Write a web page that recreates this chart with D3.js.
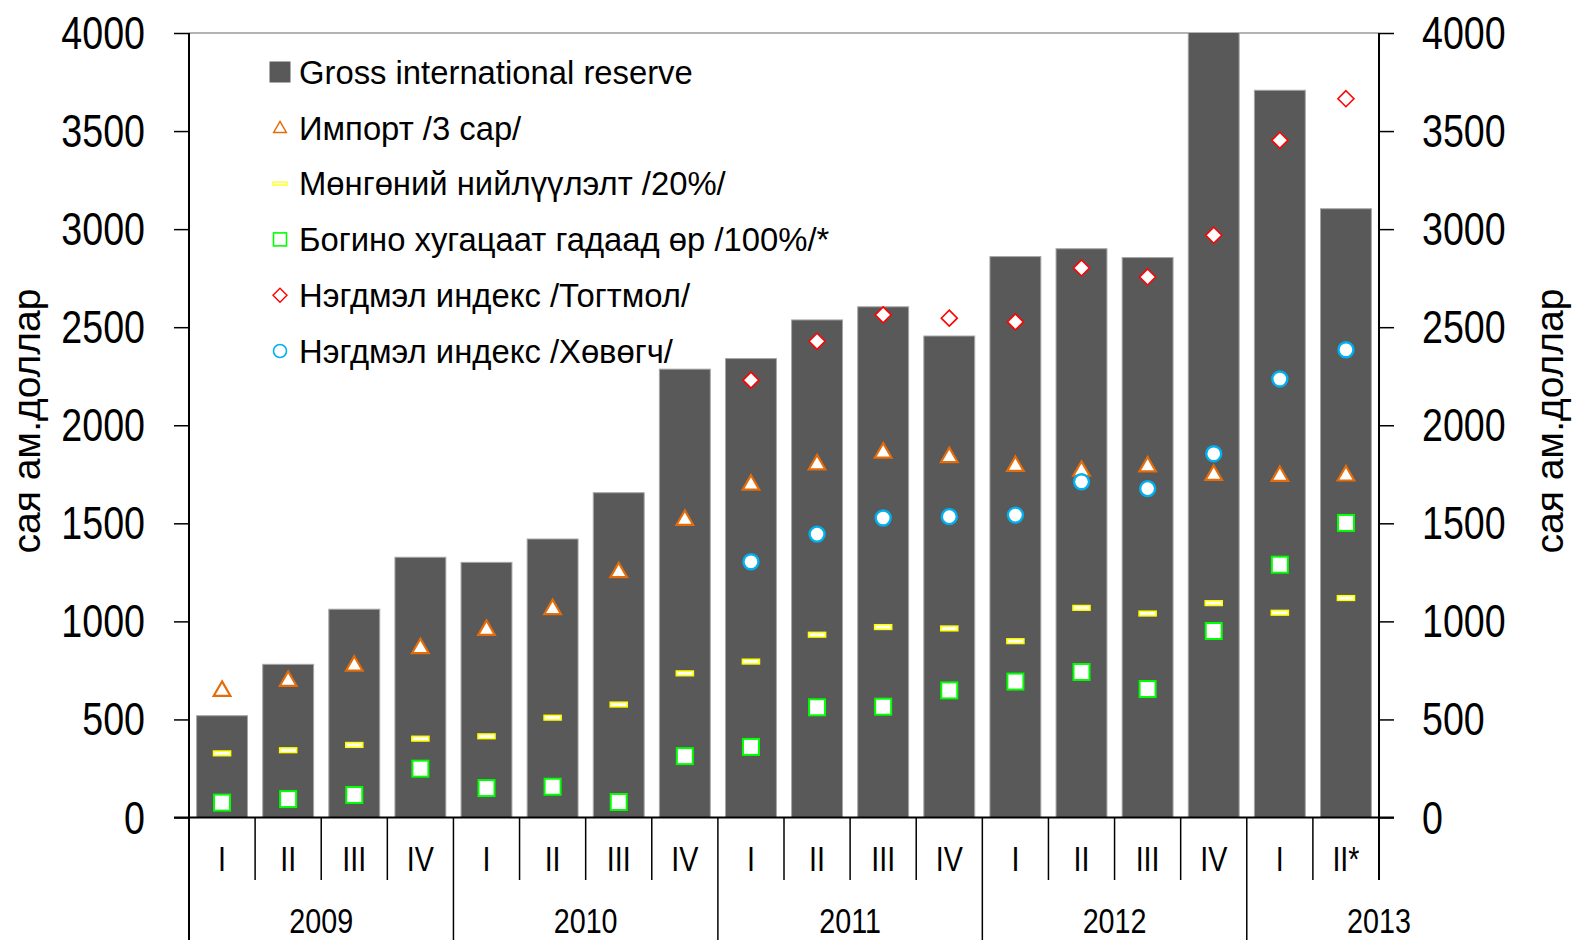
<!DOCTYPE html>
<html>
<head>
<meta charset="utf-8">
<script src="https://cdn.jsdelivr.net/npm/d3@7"></script>
<style>
  body { margin: 0; background: #fff; }
  text { font-family: "Liberation Sans", Arial, sans-serif; fill: #000; }
</style>
</head>
<body>
<div id="chart"></div>
<script>
// quarters and years on the two-level x axis
var quarters = ["I", "II", "III", "IV", "I", "II", "III", "IV", "I", "II", "III", "IV", "I", "II", "III", "IV", "I", "II*"];
var years = ["2009", "2009", "2009", "2009", "2010", "2010", "2010", "2010", "2011", "2011", "2011", "2011",
             "2012", "2012", "2012", "2012", "2013", "2013"];

// сая ам.доллар
var reserve   = [519, 781, 1062, 1327, 1301, 1420, 1656, 2286, 2340, 2537, 2604, 2455, 2860, 2900, 2855, 4130, 3708, 3104];
var imports   = [650, 701, 778, 868, 961, 1067, 1255, 1522, 1701, 1805, 1865, 1842, 1797, 1772, 1794, 1751, 1746, 1748];
var money     = [327, 343, 370, 402, 414, 509, 576, 735, 795, 932, 971, 964, 899, 1069, 1040, 1093, 1044, 1119];
var shortDebt = [76, 94, 115, 249, 150, 157, 79, 313, 360, 562, 565, 648, 693, 742, 655, 951, 1289, 1502];
var fixedIdx  = [null, null, null, null, null, null, null, null, 2230, 2428, 2563, 2546, 2527, 2802, 2756, 2969, 3453, 3665];
var floatIdx  = [null, null, null, null, null, null, null, null, 1304, 1445, 1527, 1534, 1542, 1712, 1677, 1855, 2236, 2385];

var yTicks = [0, 500, 1000, 1500, 2000, 2500, 3000, 3500, 4000];

var legendLabels = ["Gross international reserve", "Импорт /3 сар/", "Мөнгөний нийлүүлэлт /20%/",
                    "Богино хугацаат гадаад өр /100%/*", "Нэгдмэл индекс /Тогтмол/", "Нэгдмэл индекс /Хөвөгч/"];
var yTitle = "сая ам.доллар";

(function () {
    var width = 1574, height = 940;
    var plot = { left: 189, right: 1379, top: 33, bottom: 817.5 };

    var svg = d3.select("#chart").append("svg")
        .attr("width", width)
        .attr("height", height);

    // squeeze text horizontally, the original uses a narrow face
    function condense(sel, k) {
        sel.each(function () {
            var w = this.getComputedTextLength();
            d3.select(this).attr("textLength", w * k).attr("lengthAdjust", "spacingAndGlyphs");
        });
    }

    var keys = quarters.map(function (q, i) { return years[i] + " " + q; });

    var xScale = d3.scaleBand()
        .domain(keys)
        .range([plot.left, plot.right])
        .paddingInner(0.23)
        .paddingOuter(0.115);

    var yScale = d3.scaleLinear()
        .domain([0, 4000])
        .range([plot.bottom, plot.top]);

    var cx = function (i) { return xScale(keys[i]) + xScale.bandwidth() / 2; };
    var leftEdge = function (i) { return cx(i) - xScale.step() / 2; };

    svg.append("clipPath").attr("id", "plotclip")
        .append("rect")
        .attr("x", plot.left).attr("y", plot.top)
        .attr("width", plot.right - plot.left).attr("height", plot.bottom - plot.top);

    // top border
    svg.append("line")
        .attr("x1", plot.left).attr("x2", plot.right)
        .attr("y1", plot.top).attr("y2", plot.top)
        .style("stroke", "#b3b3b3").style("stroke-width", 2);

    // bars
    svg.append("g").attr("clip-path", "url(#plotclip)")
        .selectAll("rect")
        .data(reserve)
        .enter()
        .append("rect")
        .attr("x", function (d, i) { return xScale(keys[i]); })
        .attr("y", function (d) { return yScale(d); })
        .attr("width", xScale.bandwidth())
        .attr("height", function (d) { return plot.bottom - yScale(d); })
        .style("fill", "#595959")
        .style("stroke", "#a6a6a6")
        .style("stroke-width", 1);

    // markers
    var triangle = d3.symbol().type(d3.symbolTriangle).size(120);
    var diamond = "M0,-8L8,0L0,8L-8,0Z";

    function points(values) {
        return values.map(function (v, i) { return { v: v, i: i }; })
                     .filter(function (d) { return d.v !== null; });
    }

    svg.append("g").selectAll("path")
        .data(points(imports)).enter().append("path")
        .attr("d", triangle)
        .attr("transform", function (d) { return "translate(" + cx(d.i) + "," + (yScale(d.v) + 1) + ")"; })
        .style("fill", "#fff").style("stroke", "#e46c0a").style("stroke-width", 2.2);

    svg.append("g").selectAll("rect")
        .data(points(money)).enter().append("rect")
        .attr("x", function (d) { return cx(d.i) - 8.5; })
        .attr("y", function (d) { return yScale(d.v) - 2.3; })
        .attr("width", 17).attr("height", 4.6)
        .style("fill", "#fff").style("stroke", "#ffff00").style("stroke-width", 1.6);

    svg.append("g").selectAll("rect")
        .data(points(shortDebt)).enter().append("rect")
        .attr("x", function (d) { return cx(d.i) - 8; })
        .attr("y", function (d) { return yScale(d.v) - 8; })
        .attr("width", 16).attr("height", 16)
        .style("fill", "#fff").style("stroke", "#00ff00").style("stroke-width", 2);

    svg.append("g").selectAll("path")
        .data(points(fixedIdx)).enter().append("path")
        .attr("d", diamond)
        .attr("transform", function (d) { return "translate(" + cx(d.i) + "," + yScale(d.v) + ")"; })
        .style("fill", "#fff").style("stroke", "#ff0000").style("stroke-width", 1.6);

    svg.append("g").selectAll("circle")
        .data(points(floatIdx)).enter().append("circle")
        .attr("cx", function (d) { return cx(d.i); })
        .attr("cy", function (d) { return yScale(d.v); })
        .attr("r", 7.5)
        .style("fill", "#fff").style("stroke", "#00b0f0").style("stroke-width", 2.4);

    // y axes
    var leftAxis = svg.append("g")
        .attr("transform", "translate(" + plot.left + ",0)")
        .call(d3.axisLeft(yScale).tickValues(yTicks).tickFormat(d3.format("d"))
              .tickSize(15).tickPadding(29).tickSizeOuter(0));
    var rightAxis = svg.append("g")
        .attr("transform", "translate(" + plot.right + ",0)")
        .call(d3.axisRight(yScale).tickValues(yTicks).tickFormat(d3.format("d"))
              .tickSize(15).tickPadding(28).tickSizeOuter(0));
    [leftAxis, rightAxis].forEach(function (ax) {
        ax.select(".domain").remove();
        ax.selectAll("line").style("stroke", "#000").style("stroke-width", 1.5);
        ax.selectAll("text")
          .style("font-family", "'Liberation Sans', Arial, sans-serif")
          .style("font-size", "47px")
          .attr("dy", "0.33em")
          .call(condense, 0.8);
    });

    // axis lines
    svg.append("line")
        .attr("x1", plot.left).attr("x2", plot.left)
        .attr("y1", plot.top).attr("y2", height)
        .style("stroke", "#000").style("stroke-width", 2);
    svg.append("line")
        .attr("x1", plot.right).attr("x2", plot.right)
        .attr("y1", plot.top).attr("y2", 880)
        .style("stroke", "#000").style("stroke-width", 2);
    svg.append("line")
        .attr("x1", plot.left - 15).attr("x2", plot.right + 15)
        .attr("y1", plot.bottom).attr("y2", plot.bottom)
        .style("stroke", "#000").style("stroke-width", 2);

    // category separators: short for quarters, long for years
    var seps = d3.range(1, keys.length);
    svg.append("g").selectAll("line")
        .data(seps).enter().append("line")
        .attr("x1", function (i) { return leftEdge(i); })
        .attr("x2", function (i) { return leftEdge(i); })
        .attr("y1", plot.bottom)
        .attr("y2", function (i) { return years[i] !== years[i - 1] ? height : 880; })
        .style("stroke", "#000").style("stroke-width", 1.5);

    // quarter labels
    svg.append("g").selectAll("text")
        .data(quarters).enter().append("text")
        .text(function (d) { return d; })
        .attr("x", function (d, i) { return cx(i); })
        .attr("y", 871)
        .style("font-size", "35px")
        .style("text-anchor", "middle")
        .call(condense, 0.82);

    // year labels, centred over four quarters from the year's first one
    var firstOfYear = years.map(function (y, i) { return i; })
        .filter(function (i) { return i === 0 || years[i] !== years[i - 1]; });
    svg.append("g").selectAll("text")
        .data(firstOfYear).enter().append("text")
        .text(function (i) { return years[i]; })
        .attr("x", function (i) { return leftEdge(i) + 2 * xScale.step(); })
        .attr("y", 933)
        .style("font-size", "35px")
        .style("text-anchor", "middle")
        .call(condense, 0.82);

    // axis titles
    [26, 1549].forEach(function (tx) {
        svg.append("text")
            .text(yTitle)
            .attr("transform", "translate(" + tx + ",421) rotate(-90)")
            .attr("dy", "0.35em")
            .style("font-size", "39px")
            .style("text-anchor", "middle");
    });

    // legend
    var legend = svg.append("g").attr("transform", "translate(280,72)");
    var rowH = 55.8;
    var rows = legend.selectAll("g")
        .data(legendLabels).enter().append("g")
        .attr("transform", function (d, i) { return "translate(0," + i * rowH + ")"; });

    rows.append("text")
        .text(function (d) { return d; })
        .attr("x", 19)
        .attr("dy", "0.36em")
        .style("font-size", "32.8px");

    rows.each(function (d, i) {
        var g = d3.select(this);
        if (i === 0) {
            g.append("rect").attr("x", -10.5).attr("y", -10.5).attr("width", 21).attr("height", 21)
             .style("fill", "#595959");
        } else if (i === 1) {
            g.append("path").attr("d", d3.symbol().type(d3.symbolTriangle).size(70))
             .attr("transform", "translate(0,1)")
             .style("fill", "none").style("stroke", "#e46c0a").style("stroke-width", 1.5);
        } else if (i === 2) {
            g.append("rect").attr("x", -7).attr("y", -1.5).attr("width", 14).attr("height", 3)
             .style("fill", "#fff").style("stroke", "#ffff00").style("stroke-width", 1.2);
        } else if (i === 3) {
            g.append("rect").attr("x", -6.5).attr("y", -6.5).attr("width", 13).attr("height", 13)
             .style("fill", "none").style("stroke", "#00ff00").style("stroke-width", 1.6);
        } else if (i === 4) {
            g.append("path").attr("d", "M0,-7L7,0L0,7L-7,0Z")
             .style("fill", "none").style("stroke", "#ff0000").style("stroke-width", 1.4);
        } else {
            g.append("circle").attr("r", 6.5)
             .style("fill", "none").style("stroke", "#00b0f0").style("stroke-width", 1.6);
        }
    });
})();
</script>
</body>
</html>
